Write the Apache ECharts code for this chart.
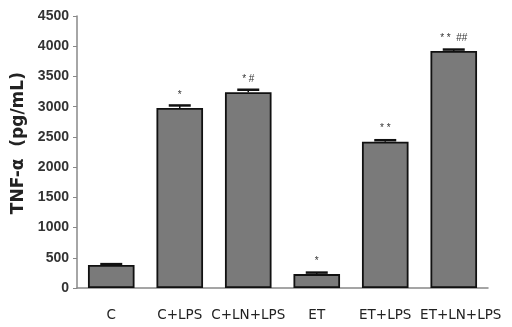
<!DOCTYPE html>
<html><head><meta charset="utf-8">
<script src="https://cdn.jsdelivr.net/npm/echarts@6/dist/echarts.min.js"></script>
<style>html,body{margin:0;padding:0;background:#fff}#c{width:512px;height:327px}</style>
</head><body><div id="c"></div>
<script>
var categories = ['C', 'C+LPS', 'C+LN+LPS', 'ET', 'ET+LPS', 'ET+LN+LPS'];
var values = [380, 2980, 3240, 230, 2420, 3920];
var errors = [15, 40, 40, 25, 25, 25];
var marks = ['', '*', '* #', '*', '* *', '* *  ##'];
var yTicks = [0, 500, 1000, 1500, 2000, 2500, 3000, 3500, 4000, 4500];

var chart = echarts.init(document.getElementById('c'));
chart.setOption({
  animation: false,
  grid: {left: 77, right: 24, top: 16, bottom: 39},
  xAxis: {
    type: 'category', data: categories,
    axisLine: {lineStyle: {color: '#888', width: 1.5}},
    axisTick: {alignWithLabel: true, length: 5, lineStyle: {color: '#333', width: 1.5}},
    axisLabel: {
      interval: 0, hideOverlap: false, color: '#222', fontFamily: 'DejaVu Sans', fontSize: 13.5, margin: 20,
      formatter: function (v, i) { return i === categories.length - 1 ? '{s|' + v + '}' : v; },
      rich: {s: {fontFamily: 'DejaVu Sans', fontSize: 13.5, color: '#222', padding: [0, 0, 0, 14]}}
    }
  },
  yAxis: {
    type: 'value', min: yTicks[0], max: yTicks[yTicks.length - 1], interval: 500,
    name: '   TNF-α  (pg/mL)', nameLocation: 'middle', nameGap: 48, nameRotate: 90,
    nameTextStyle: {fontFamily: 'DejaVu Sans', fontWeight: 'bold', fontSize: 17, color: '#222'},
    axisLine: {show: true, lineStyle: {color: '#888', width: 1.5}},
    axisTick: {show: true, length: 4, lineStyle: {color: '#888'}},
    splitLine: {show: false},
    axisLabel: {formatter: function (v) { return String(v); }, color: '#333', fontFamily: 'Liberation Sans', fontSize: 14, fontWeight: 'bold', margin: 8}
  },
  series: [{
    type: 'bar', data: values, barWidth: '68%',
    itemStyle: {color: '#7a7a7a', borderColor: '#111', borderWidth: 1.8},
    label: {
      show: true, position: 'top', distance: 8,
      formatter: function (p) { return marks[p.dataIndex]; },
      fontFamily: 'Liberation Sans', fontSize: 10, color: '#333'
    }
  }, {
    type: 'custom',
    data: values.map(function (v, i) { return [i, v, errors[i]]; }),
    renderItem: function (params, api) {
      var x = api.value(0), v = api.value(1), e = api.value(2);
      var top = api.coord([x, v + e]);
      var base = api.coord([x, v]);
      return {
        type: 'group', children: [
          {type: 'line', shape: {x1: top[0], y1: top[1], x2: base[0], y2: base[1]}, style: {stroke: '#111', lineWidth: 1.5}},
          {type: 'line', shape: {x1: top[0] - 11, y1: top[1], x2: top[0] + 11, y2: top[1]}, style: {stroke: '#111', lineWidth: 2.5}}
        ]
      };
    },
    z: 5
  }]
});
</script></body></html>
